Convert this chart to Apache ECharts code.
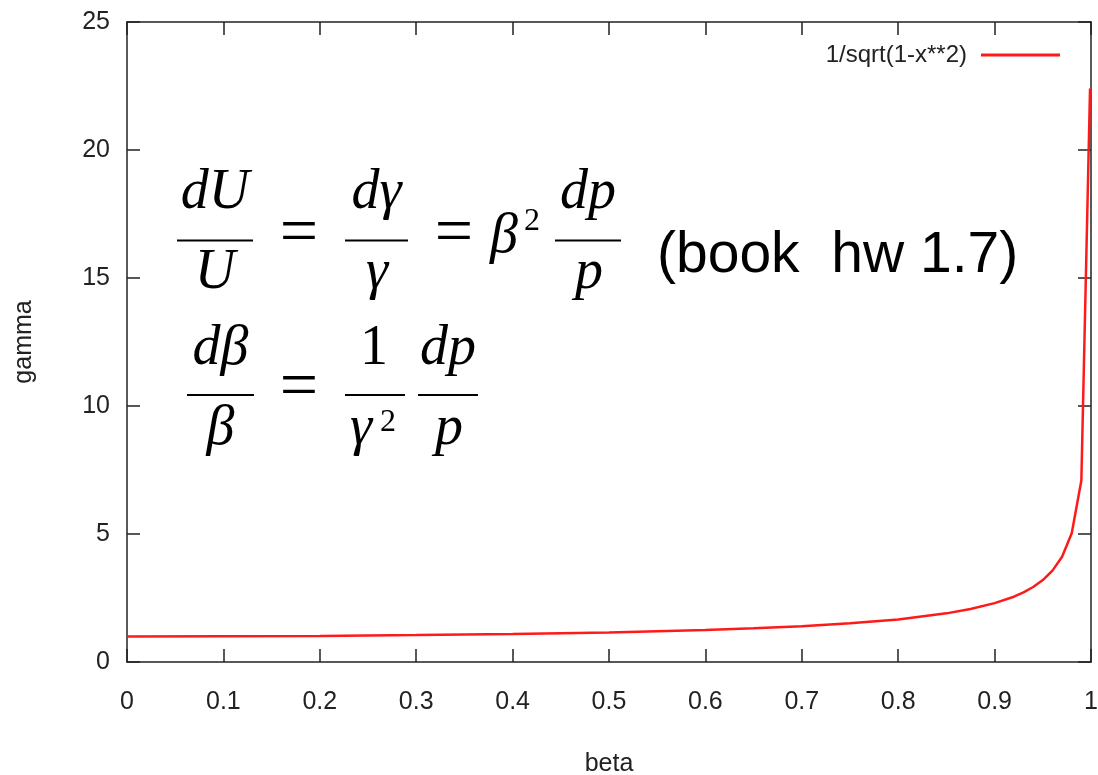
<!DOCTYPE html>
<html>
<head>
<meta charset="utf-8">
<script src="https://cdn.jsdelivr.net/npm/echarts@6/dist/echarts.min.js"></script>
<style>html,body{margin:0;padding:0;background:#fff;}#c{width:1098px;height:775px;}</style>
</head>
<body>
<div id="c"></div>
<script>
// values
const betaValues  = [0, 0.1, 0.2, 0.3, 0.4, 0.5, 0.6, 0.65, 0.7, 0.75, 0.8, 0.85, 0.875, 0.9, 0.92, 0.93, 0.94, 0.95, 0.96, 0.97, 0.98, 0.99, 0.999];
const gammaValues = [1.0, 1.005, 1.02, 1.05, 1.09, 1.15, 1.25, 1.32, 1.40, 1.51, 1.66, 1.90, 2.07, 2.30, 2.55, 2.72, 2.93, 3.20, 3.57, 4.11, 5.03, 7.09, 22.4];
const seriesName = '1/sqrt(1-x**2)';
const xName = 'beta';
const yName = 'gamma';
const noteText = '(book  hw 1.7)';

const chart = echarts.init(document.getElementById('c'), null, {renderer: 'canvas'});

const SANS = '"Liberation Sans", Arial, Helvetica, sans-serif';
const SERIF = '"Liberation Serif", "Times New Roman", serif';
const MF = 56; // math font size

function txt(text, x, baseline, size, family, italic, align) {
  const off = (family === SANS ? 0.3465 : 0.3375) * size;
  return {
    type: 'text', silent: true, z: 100,
    style: {
      text: text, x: x, y: baseline - off,
      font: (italic ? 'italic ' : '') + size + 'px ' + family,
      fill: '#000', textAlign: align || 'center', verticalAlign: 'middle'
    }
  };
}
function bar(x1, x2, y) {
  return {type: 'line', silent: true, z: 100,
    shape: {x1: x1, y1: y, x2: x2, y2: y},
    style: {stroke: '#000', lineWidth: 2}};
}
function eq(cx, axisY) {
  const s = 68;
  return {
    type: 'text', silent: true, z: 100,
    style: {text: '=', x: cx, y: axisY - 0.09 * s, font: s + 'px ' + SERIF,
      fill: '#000', textAlign: 'center', verticalAlign: 'middle'}
  };
}

const graphics = [
  // row 1
  bar(177, 253, 240.5),
  txt('dU', 215, 212, MF, SERIF, true),
  txt('U', 215, 292, MF, SERIF, true),
  eq(299, 241),
  bar(345, 408, 240.5),
  txt('dγ', 376.5, 212, MF, SERIF, true),
  txt('γ', 377, 292, MF, SERIF, true),
  eq(454, 241),
  txt('β', 490, 256, MF, SERIF, true, 'left'),
  txt('2', 524, 232, 32, SERIF, false, 'left'),
  bar(555, 621, 240.5),
  txt('dp', 588, 212, MF, SERIF, true),
  txt('p', 589, 292, MF, SERIF, true),
  txt(noteText, 657, 276, 57, SANS, false, 'left'),
  // row 2
  bar(187, 254, 395),
  txt('dβ', 220.5, 368, MF, SERIF, true),
  txt('β', 220.5, 448, MF, SERIF, true),
  eq(299, 395),
  bar(345, 405, 395),
  txt('1', 374, 368, MF, SERIF, false),
  txt('γ', 361, 448, MF, SERIF, true),
  txt('2', 380, 433, 32, SERIF, false, 'left'),
  bar(418, 478, 395),
  txt('dp', 448, 368, MF, SERIF, true),
  txt('p', 449, 448, MF, SERIF, true)
];

const axisColor = '#222';
const labelStyle = {color: '#222', fontSize: 25, fontFamily: SANS};

const option = {
  backgroundColor: '#fff',
  animation: false,
  grid: {left: 127, right: 7, top: 22, bottom: 113, containLabel: false, outerBoundsMode: 'none'},
  legend: {
    data: [{name: seriesName, icon: 'rect'}],
    right: 33, top: 38,
    align: 'right',
    itemWidth: 79, itemHeight: 3,
    textStyle: {color: '#222', fontSize: 24, fontFamily: SANS, padding: [0, 9, 0, 0]},
    selectedMode: false
  },
  xAxis: [{
    type: 'value', min: 0, max: 1, interval: 0.1,
    name: xName, nameLocation: 'middle', nameGap: 90,
    nameTextStyle: labelStyle,
    axisLine: {onZero: false, lineStyle: {color: axisColor, width: 1.5}},
    axisTick: {inside: true, length: 13, lineStyle: {color: axisColor, width: 1.5}},
    axisLabel: Object.assign({margin: 28}, labelStyle),
    splitLine: {show: false}
  }, {
    type: 'value', min: 0, max: 1, interval: 0.1, position: 'top',
    axisLine: {onZero: false, lineStyle: {color: axisColor, width: 1.5}},
    axisTick: {inside: true, length: 13, lineStyle: {color: axisColor, width: 1.5}},
    axisLabel: {show: false},
    splitLine: {show: false}
  }],
  yAxis: [{
    type: 'value', min: 0, max: 25, interval: 5,
    name: yName, nameLocation: 'middle', nameGap: 90, nameRotate: 90,
    nameTextStyle: labelStyle,
    axisLine: {show: true, onZero: false, lineStyle: {color: axisColor, width: 1.5}},
    axisTick: {show: true, inside: true, length: 13, lineStyle: {color: axisColor, width: 1.5}},
    axisLabel: Object.assign({margin: 17}, labelStyle),
    splitLine: {show: false}
  }, {
    type: 'value', min: 0, max: 25, interval: 5, position: 'right',
    axisLine: {show: true, onZero: false, lineStyle: {color: axisColor, width: 1.5}},
    axisTick: {show: true, inside: true, length: 13, lineStyle: {color: axisColor, width: 1.5}},
    axisLabel: {show: false},
    splitLine: {show: false}
  }],
  series: [{
    name: seriesName,
    type: 'line',
    xAxisIndex: 0, yAxisIndex: 0,
    data: betaValues.map((b, i) => [b, gammaValues[i]]),
    symbol: 'none',
    smooth: false,
    lineStyle: {color: '#ff1a1a', width: 2.5},
    itemStyle: {color: '#ff1a1a'},
    clip: true
  }],
  graphic: graphics
};
chart.setOption(option);
</script>
</body>
</html>
